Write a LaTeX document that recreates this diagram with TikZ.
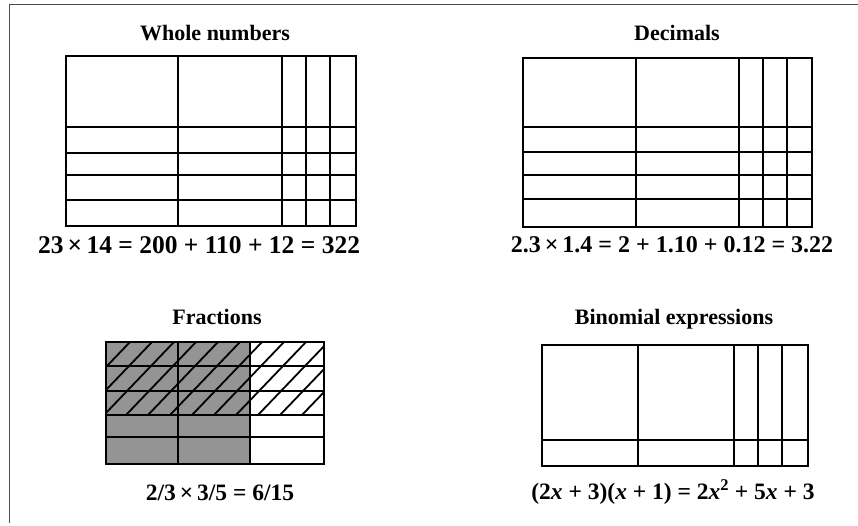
\documentclass[tikz,border=0pt]{standalone}
\usepackage{fontspec}
\setmainfont{Liberation Serif}
\begin{document}
\begin{tikzpicture}[x=1pt,y=-1pt,
  grid/.style={line width=2pt},
  frame/.style={line width=0.8pt, black!70},
  title/.style={font=\fontsize{22}{25}\selectfont\bfseries, inner sep=0pt},
  eqn/.style={font=\fontsize{24}{27}\selectfont\bfseries, inner sep=0pt},
  hatch/.style={line width=1.8pt},
  shade/.style={fill=black!42}]
\useasboundingbox (0,0) rectangle (858,525);
% outer frame (top and left edges)
\coordinate (fTL) at (9,4);
\coordinate (fTR) at (858,4);
\coordinate (fBL) at (9,523);
\draw[frame] (fBL) -- (fTL) -- (fTR);

% ---------- Whole numbers ----------
\node[title] (t1) at (215,33) {Whole numbers};
\draw[grid] (66,56) rectangle (356,226);
\foreach \x in {178,282,306,330} \draw[grid] (\x,56) -- (\x,226);
\foreach \y in {127,153,175,200} \draw[grid] (66,\y) -- (356,\y);
\node[eqn, font=\fontsize{25.5}{28}\selectfont\bfseries] (e1) at (199,245) {23\,×\,14 = 200 + 110 + 12 = 322};

% ---------- Decimals ----------
\node[title] (t2) at (677,33) {Decimals};
\draw[grid] (523,58) rectangle (812,227);
\foreach \x in {636,739,763,787} \draw[grid] (\x,58) -- (\x,227);
\foreach \y in {127,152,175,199} \draw[grid] (523,\y) -- (812,\y);
\node[eqn] (e2) at (672,245) {2.3\,×\,1.4 = 2 + 1.10 + 0.12 = 3.22};

% ---------- Fractions ----------
\node[title] (t3) at (217,317) {Fractions};
\fill[shade] (106,342) rectangle (250,464);
\begin{scope}
  \clip (106,342) rectangle (324,415);
  \foreach \x in {60,82,...,340} \draw[hatch] (\x,415) -- (\x+70,342);
\end{scope}
\draw[grid] (106,342) rectangle (324,464);
\foreach \x in {178,250} \draw[grid] (\x,342) -- (\x,464);
\foreach \y in {366,391,415,437} \draw[grid] (106,\y) -- (324,\y);
\node[eqn, font=\fontsize{23.5}{27}\selectfont\bfseries] (e3) at (220,493) {2/3\,×\,3/5 = 6/15};

% ---------- Binomial expressions ----------
\node[title] (t4) at (674,319) {Binomial expressions};
\draw[grid] (542,345) rectangle (808,466);
\foreach \x in {638,734,758,782} \draw[grid] (\x,345) -- (\x,466);
\draw[grid] (542,440) -- (808,440);
\node[eqn, font=\fontsize{23.5}{27}\selectfont\bfseries] (e4) at (673,492) {(2\textit{x} + 3)(\textit{x} + 1) = 2\textit{x}\textsuperscript{2} + 5\textit{x} + 3};
\end{tikzpicture}
\end{document}
